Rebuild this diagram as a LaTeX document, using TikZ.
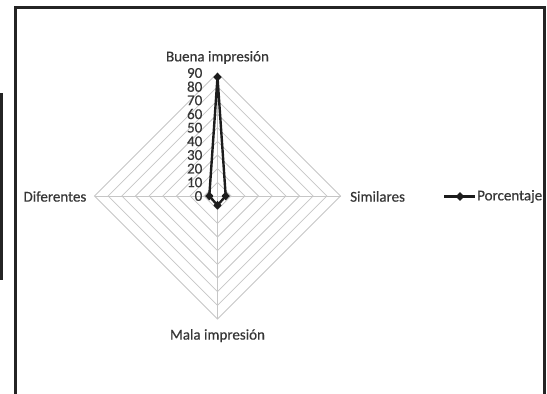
\documentclass[tikz,border=0pt]{standalone}
\usepackage{fontspec}
\setmainfont{Carlito}
\newfontfamily\chartfont{Carlito}[FakeBold=0.5]
\usetikzlibrary{shapes.geometric}
\definecolor{framecol}{HTML}{242424}
\definecolor{gridcol}{HTML}{C6C6C6}
\definecolor{txtcol}{HTML}{363636}
\definecolor{seriescol}{HTML}{1C1C1C}
\tikzset{
  lbl/.style={font=\chartfont\fontsize{15}{15}\selectfont, text=txtcol, inner sep=0pt},
  gridline/.style={draw=gridcol, line width=0.8pt},
  seriesline/.style={draw=seriescol, line width=2.4pt, line join=round},
  marker/.style={diamond, fill=seriescol, inner sep=0pt, minimum width=8.5pt, minimum height=9pt},
  framepart/.style={draw=framecol, line width=3pt}
}
\begin{document}
\begin{tikzpicture}[x=1pt,y=-1pt]
\useasboundingbox (0,0) rectangle (547,394);
\fill[white] (0,0) rectangle (547,394);

% radar grid: nine diamonds, one every 10 units, 90 units = 123pt
\begin{scope}[shift={(217.5,196)}]
  \coordinate (O) at (0,0);
  \coordinate (top) at (0,-123);
  \coordinate (right) at (123,0);
  \coordinate (bottom) at (0,123);
  \coordinate (left) at (-123,0);
  \foreach \k in {1,...,9}{
    \pgfmathsetmacro\r{\k*123/9}
    \draw[gridline] (0,-\r) -- (\r,0) -- (0,\r) -- (-\r,0) -- cycle;
  }
  \draw[gridline] (top) -- (bottom);
  \draw[gridline] (left) -- (right);

  % value axis labels
  \foreach \k in {0,...,9}{
    \pgfmathsetmacro\r{\k*123/9}
    \pgfmathtruncatemacro\v{\k*10}
    \node[lbl, anchor=east] (v\k) at (-15,-\r) {\v};
  }

  % category labels
  \node[lbl, anchor=south] (lbuena) at (0,-132) {Buena impresión};
  \node[lbl, anchor=east] (ldif) at (-131,0.5) {Diferentes};
  \node[lbl, anchor=west] (lsim) at (132.5,0.5) {Similares};
  \node[lbl, anchor=north] (lmala) at (0,133) {Mala impresión};

  % data series: Buena 87, Similares 6, Mala 7, Diferentes 6
  \coordinate (pb) at (0,-118.9);
  \coordinate (ps) at (8.2,0);
  \coordinate (pm) at (0,9.3);
  \coordinate (pd) at (-8.2,0);
  \draw[seriesline] (pb) -- (ps) -- (pm) -- (pd) -- cycle;
  \foreach \p in {pb,ps,pm,pd}{
    \node[marker] at (\p) {};
  }
\end{scope}

% legend
\coordinate (legA) at (444,196.5);
\coordinate (legB) at (475,196.5);
\draw[seriesline] (legA) -- (legB);
\node[marker] (legm) at (460,196.5) {};
\node[lbl, anchor=west] (legtxt) at (477,196.5) {Porcentaje};

% chart border (open at the bottom edge)
\draw[framepart] (15.4,400) -- (15.4,7.6) -- (544.8,7.6) -- (544.8,400);

% dark bar at the far left edge
\draw[framepart, line width=2.7pt] (1.3,93) -- (1.3,280);
\end{tikzpicture}
\end{document}
